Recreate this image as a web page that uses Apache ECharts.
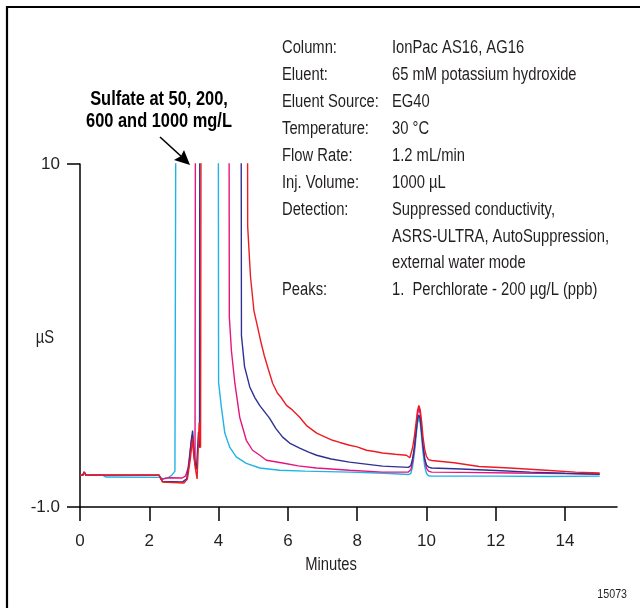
<!DOCTYPE html>
<html>
<head>
<meta charset="utf-8">
<script src="https://cdn.jsdelivr.net/npm/echarts@6/dist/echarts.min.js"></script>
<style>
html,body{margin:0;padding:0;background:#fff;}
#chart{width:640px;height:608px;}
</style>
</head>
<body>
<div id="chart"></div>
<script>
// ---- data (minutes, µS) ----
const cyanTime  = [0,0.08,0.12,0.17,0.65,0.75,2.30,2.42,2.55,2.65,2.74,2.79,2.83,3.97,4.00,4.08,4.18,4.32,4.51,4.80,5.19,5.76,6.50,7.78,8.80,9.48,9.55,9.60,9.65,9.70,9.74,9.78,9.82,9.86,9.90,9.95,10.00,10.06,10.15,11.0,12.0,13.5,15.0];
const cyanValue = [0.02,0.02,0.12,0.02,0.02,-0.04,-0.05,-0.10,-0.06,0.02,0.15,0.20,40,40,3.0,2.21,1.37,0.92,0.61,0.40,0.25,0.18,0.15,0.12,0.08,0.04,0.08,0.30,0.70,1.25,1.68,1.85,1.70,1.25,0.75,0.30,0.08,0.00,-0.01,-0.01,-0.01,-0.02,-0.01];

const magentaTime  = [0,0.08,0.12,0.17,2.28,2.35,2.45,2.60,2.95,3.05,3.12,3.18,3.23,3.28,3.32,3.36,4.27,4.31,4.37,4.47,4.61,4.80,4.98,5.19,5.38,5.85,6.30,6.82,7.78,8.73,9.48,9.55,9.60,9.65,9.70,9.74,9.78,9.82,9.86,9.90,9.95,10.00,10.06,10.15,11.0,12.5,14.0,15.0];
const magentaValue = [0.02,0.02,0.12,0.02,0.02,-0.12,-0.08,-0.06,-0.07,0.0,0.25,0.80,1.30,0.70,0.35,40,40,5.1,4.02,2.97,1.88,1.14,0.82,0.66,0.50,0.41,0.32,0.25,0.18,0.12,0.12,0.20,0.45,0.85,1.45,1.95,2.17,2.00,1.55,1.00,0.50,0.25,0.15,0.12,0.11,0.09,0.07,0.06];

const navyTime  = [0,0.08,0.12,0.17,2.28,2.38,2.95,3.08,3.15,3.20,3.25,3.31,3.36,3.42,3.45,3.48,4.62,4.66,4.75,4.90,5.05,5.19,5.33,5.47,5.65,5.85,6.05,6.34,6.60,6.83,7.25,7.78,8.73,9.48,9.55,9.60,9.65,9.70,9.74,9.78,9.82,9.86,9.90,9.95,10.00,10.06,10.15,11.0,12.0,13.0,14.0,15.0];
const navyValue = [0.02,0.02,0.12,0.02,0.02,-0.18,-0.20,-0.10,0.40,1.00,1.45,0.50,0.20,1.40,0.90,40,40,4.5,3.5,2.85,2.5,2.25,2.05,1.85,1.52,1.24,1.05,0.89,0.76,0.66,0.54,0.44,0.31,0.27,0.33,0.55,0.90,1.40,1.80,1.95,1.82,1.40,0.95,0.55,0.35,0.28,0.25,0.22,0.17,0.12,0.08,0.05];

const redTime  = [0,0.08,0.12,0.17,2.28,2.38,3.00,3.10,3.18,3.25,3.32,3.38,3.44,3.48,3.53,4.80,4.84,4.92,5.02,5.12,5.22,5.32,5.44,5.56,5.70,5.80,5.96,6.10,6.34,6.55,6.83,7.05,7.29,7.50,7.78,8.00,8.27,8.50,8.73,9.10,9.42,9.52,9.56,9.60,9.65,9.70,9.74,9.78,9.82,9.86,9.90,9.95,10.00,10.06,10.15,10.80,11.52,12.40,13.45,14.30,15.0];
const redValue = [0.02,0.02,0.12,0.02,0.02,-0.20,-0.23,-0.10,0.50,1.20,0.30,-0.10,1.70,0.90,40,40,8.0,6.4,5.3,4.8,4.3,3.85,3.4,2.97,2.65,2.52,2.26,2.14,1.88,1.60,1.37,1.26,1.14,1.07,0.98,0.93,0.82,0.78,0.73,0.69,0.66,0.58,0.62,0.90,1.25,1.70,2.08,2.26,2.12,1.75,1.25,0.85,0.62,0.52,0.49,0.42,0.30,0.25,0.18,0.12,0.09];

const xTickValues = [0,2,4,6,8,10,12,14];
const yTickValues = [-1,10];
const yTickLabels = {'-1':'-1.0','10':'10'};

const conditionLabels = ['Column:','Eluent:','Eluent Source:','Temperature:','Flow Rate:','Inj. Volume:','Detection:','','','Peaks:'];
const conditionValues = ['IonPac AS16, AG16','65 mM potassium hydroxide','EG40','30 °C','1.2 mL/min','1000 µL','Suppressed conductivity,','ASRS-ULTRA, AutoSuppression,','external water mode','1.  Perchlorate - 200 µg/L (ppb)'];
const annotationLines = ['Sulfate at 50, 200,','600 and 1000 mg/L'];

// ---- build ----
const FONT = '"Liberation Sans", Arial, sans-serif';
const NARROW = 0.82;
const TXT = '#231f20';
function zip(t, v){ return t.map((x,i)=>[x, v[i]]); }
function mkSeries(name, t, v, color){
  return {name, type:'line', data: zip(t,v), showSymbol:false, symbol:'none',
    clip:true, lineStyle:{color, width:1.4}, itemStyle:{color}, z:2};
}
function txt(x, y, text, font, align, fill){
  return {type:'text', x, y, scaleX:NARROW, scaleY:1,
    style:{text, font, fill: fill || TXT, align, verticalAlign:'middle'}};
}

const graphics = [
  {type:'polyline', shape:{points:[[7,608],[7,7],[640,7]]}, style:{stroke:'#000', lineWidth:2.2, fill:null}, silent:true},
  txt(45, 338, 'µS', '18px '+FONT, 'center'),
  txt(331, 565, 'Minutes', '18px '+FONT, 'center'),
  txt(627, 594, '15073', '13px '+FONT, 'right'),
  {type:'line', shape:{x1:160, y1:137, x2:183, y2:158}, style:{stroke:'#000', lineWidth:1.6}},
  {type:'polygon', shape:{points:[[190,165],[174,160],[181,156],[184,150]]}, style:{fill:'#000'}}
];
annotationLines.forEach((s,i)=>{
  graphics.push(txt(159, 99 + i*22, s, 'bold 20px '+FONT, 'center', '#000'));
});
conditionLabels.forEach((s,i)=>{
  const y = 48.3 + i*26.9;
  if (s) graphics.push(txt(282, y, s, '18px '+FONT, 'left'));
  graphics.push(txt(392, y, conditionValues[i], '18px '+FONT, 'left'));
});

const chart = echarts.init(document.getElementById('chart'), null, {renderer:'canvas'});
chart.setOption({
  animation:false,
  backgroundColor:'#fff',
  grid:{left:80, top:164, width:537, height:343, containLabel:false},
  xAxis:{type:'value', min:0, max:15.5, interval:2,
    axisLine:{show:true, onZero:false, lineStyle:{color:'#000', width:1.5}},
    axisTick:{show:true, length:14, inside:false, customValues:xTickValues, lineStyle:{color:'#000', width:1.5}},
    axisLabel:{show:true, margin:26, customValues:xTickValues, fontSize:17, fontFamily:FONT, color:TXT},
    splitLine:{show:false}},
  yAxis:{type:'value', min:-1, max:10,
    axisLine:{show:true, onZero:false, lineStyle:{color:'#000', width:1.5}},
    axisTick:{show:true, length:13, inside:false, customValues:yTickValues, lineStyle:{color:'#000', width:1.5}},
    axisLabel:{show:true, margin:20, customValues:yTickValues, fontSize:17, fontFamily:FONT, color:TXT,
      formatter:(v)=> yTickLabels[String(v)] ?? String(v)},
    splitLine:{show:false}},
  series:[
    mkSeries('50 mg/L', cyanTime, cyanValue, '#1fb3e6'),
    mkSeries('200 mg/L', magentaTime, magentaValue, '#e6147f'),
    mkSeries('600 mg/L', navyTime, navyValue, '#2e3192'),
    mkSeries('1000 mg/L', redTime, redValue, '#ed1c24')
  ],
  graphic: graphics
});
</script>
</body>
</html>
